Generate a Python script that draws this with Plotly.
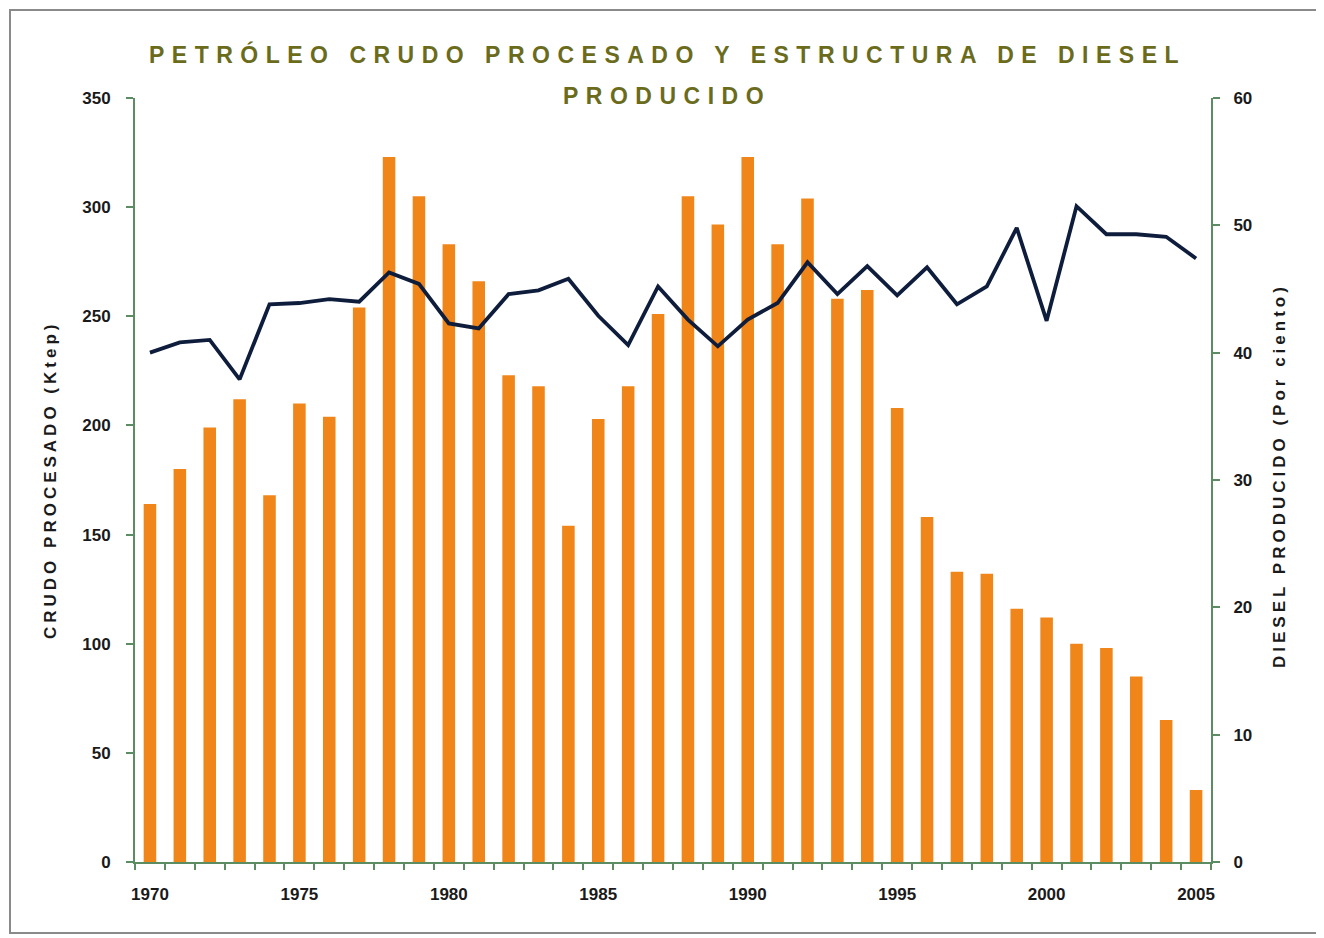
import plotly.graph_objects as go

years = list(range(1970, 2006))
crudo_ktep = [164, 180, 199, 212, 168, 210, 204, 254, 323, 305,
              283, 266, 223, 218, 154, 203, 218, 251, 305, 292,
              323, 283, 304, 258, 262, 208, 158, 133, 132, 116,
              112, 100, 98, 85, 65, 33]
diesel_pct = [40.0, 40.8, 41.0, 37.9, 43.8, 43.9, 44.2, 44.0, 46.3, 45.4,
              42.3, 41.9, 44.6, 44.9, 45.8, 42.9, 40.6, 45.2, 42.6, 40.5,
              42.6, 43.9, 47.1, 44.6, 46.8, 44.5, 46.7, 43.8, 45.2, 49.8,
              42.5, 51.5, 49.3, 49.3, 49.1, 47.4]
x_tick_years = [1970, 1975, 1980, 1985, 1990, 1995, 2000, 2005]
left_ticks = [0, 50, 100, 150, 200, 250, 300, 350]
right_ticks = [0, 10, 20, 30, 40, 50, 60]

title_line1 = "PETRÓLEO CRUDO PROCESADO Y ESTRUCTURA DE DIESEL"
title_line2 = "PRODUCIDO"
left_title = "CRUDO PROCESADO (Ktep)"
right_title = "DIESEL PRODUCIDO (Por ciento)"

# page body has an 8px default margin; compensate so pixels line up with the window
OFF = 8
W, H = 1324 - OFF, 938 - OFF
L, R, T, B = 135 - OFF, 1324 - 1211, 98 - OFF, 938 - 862
pw, ph = W - L - R, H - T - B

def px(xpix):
    return (xpix - OFF - L) / pw

def py(ypix):
    return (H - B - (ypix - OFF)) / ph

AX = "#5b8c62"
TXT = "#1a1a1a"
FONT = "Liberation Sans, Arial, sans-serif"

fig = go.Figure()
fig.add_trace(go.Bar(x=years, y=crudo_ktep, marker=dict(color="#f0861a", line=dict(width=0)),
                     width=0.42, yaxis="y", name="Crudo"))
fig.add_trace(go.Scatter(x=years, y=diesel_pct, mode="lines", yaxis="y2",
                         line=dict(color="#0f1d3d", width=3.8), name="Diesel"))

fig.update_layout(
    width=W, height=H,
    margin=dict(l=L, r=R, t=T, b=B),
    paper_bgcolor="white", plot_bgcolor="white",
    showlegend=False,
    font=dict(family=FONT, color=TXT),
    xaxis=dict(
        range=[1969.5, 2005.5],
        tickmode="array", tickvals=x_tick_years,
        ticktext=[f"<b>{y}</b>" for y in x_tick_years],
        ticks="", showgrid=False, zeroline=False,
        showline=True, linecolor=AX, linewidth=2,
        tickfont=dict(size=17, family=FONT, color=TXT),
        ticklabelstandoff=16,
        minor=dict(tick0=1969.5, dtick=1, ticks="outside", ticklen=6,
                   tickcolor=AX, tickwidth=2, showgrid=False),
    ),
    yaxis=dict(
        range=[0, 350], tickmode="array", tickvals=left_ticks,
        ticktext=[f"<b>{v}</b>" for v in left_ticks],
        ticks="outside", ticklen=7, tickcolor=AX, tickwidth=2,
        showgrid=False, zeroline=False,
        showline=True, linecolor=AX, linewidth=2,
        tickfont=dict(size=17, family=FONT, color=TXT),
        ticklabelstandoff=12,
    ),
    yaxis2=dict(
        range=[0, 60], overlaying="y", side="right",
        tickmode="array", tickvals=right_ticks,
        ticktext=[f"<b>{v}</b>" for v in right_ticks],
        ticks="outside", ticklen=7, tickcolor=AX, tickwidth=2,
        showgrid=False, zeroline=False,
        showline=True, linecolor=AX, linewidth=2,
        tickfont=dict(size=17, family=FONT, color=TXT),
        ticklabelstandoff=10,
    ),
)

title_color = "#6b6b1c"
fig.add_annotation(
    text=f'<span style="letter-spacing:7.5px"><b>{title_line1}</b></span>',
    xref="paper", yref="paper", x=px(667), y=py(55),
    xanchor="center", yanchor="middle", showarrow=False,
    font=dict(size=23, family=FONT, color=title_color),
)
fig.add_annotation(
    text=f'<span style="letter-spacing:7.5px"><b>{title_line2}</b></span>',
    xref="paper", yref="paper", x=px(667), y=py(96),
    xanchor="center", yanchor="middle", showarrow=False,
    font=dict(size=23, family=FONT, color=title_color),
)
fig.add_annotation(
    text=f'<span style="letter-spacing:4px"><b>{left_title}</b></span>',
    xref="paper", yref="paper", x=px(50), y=py(480),
    xanchor="center", yanchor="middle", showarrow=False, textangle=-90,
    font=dict(size=17, family=FONT, color=TXT),
)
fig.add_annotation(
    text=f'<span style="letter-spacing:4px"><b>{right_title}</b></span>',
    xref="paper", yref="paper", x=px(1279), y=py(476),
    xanchor="center", yanchor="middle", showarrow=False, textangle=-90,
    font=dict(size=17, family=FONT, color=TXT),
)

fig.add_shape(type="rect", xref="paper", yref="paper",
              x0=px(10), x1=px(1318), y0=py(933), y1=py(10),
              line=dict(color="#8a8a8a", width=2), fillcolor="rgba(0,0,0,0)", layer="below")

fig.write_html("out.html")
